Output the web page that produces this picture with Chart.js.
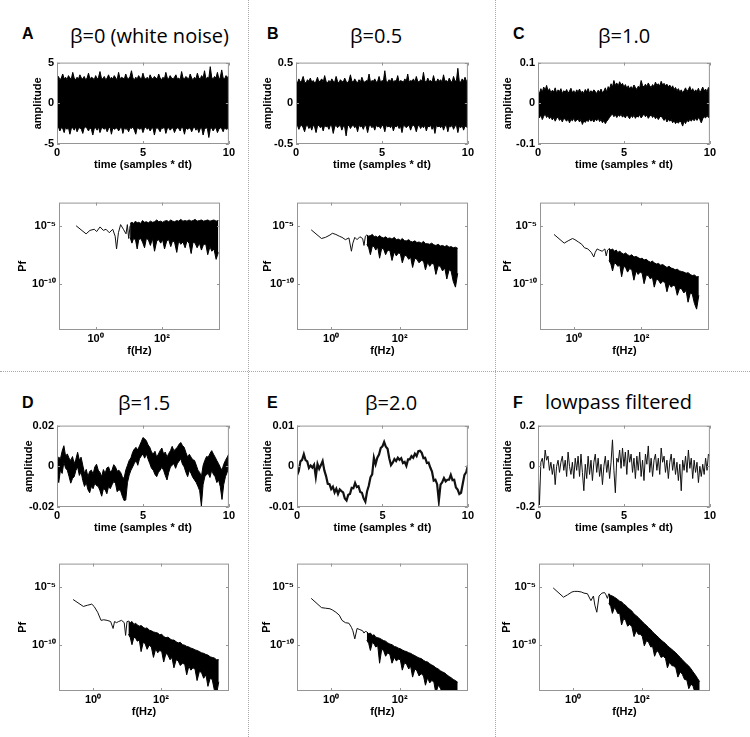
<!DOCTYPE html>
<html>
<head>
<meta charset="utf-8">
<script src="https://cdn.jsdelivr.net/npm/chart.js@4.4.0/dist/chart.umd.min.js"></script>
<style>
body { margin: 0; background: #fff; }
#fig { position: relative; width: 750px; height: 737px; overflow: hidden; background: #fff; }
#fig canvas { position: absolute; }
.sep-v { position: absolute; top: 0; width: 0; height: 737px; border-left: 1px dotted #a8a8a8; }
.sep-h { position: absolute; left: 0; height: 0; width: 750px; border-top: 1px dotted #a8a8a8; }
.letter { position: absolute; font: bold 16px "Liberation Sans", Arial, sans-serif; line-height: 16px; }
.title { position: absolute; font: 20px "Open Sans", sans-serif; line-height: 20px; white-space: nowrap; }
</style>
</head>
<body>
<div id="fig">
  <div class="sep-v" style="left:248px"></div>
  <div class="sep-v" style="left:495px"></div>
  <div class="sep-h" style="top:371px"></div>

  <div class="letter" style="left:22px;top:26px">A</div>
  <div class="letter" style="left:267px;top:26px">B</div>
  <div class="letter" style="left:513px;top:26px">C</div>
  <div class="letter" style="left:22px;top:395px">D</div>
  <div class="letter" style="left:267px;top:395px">E</div>
  <div class="letter" style="left:513px;top:395px">F</div>

  <div class="title" style="left:70px;top:26px">β=0 (white noise)</div>
  <div class="title" style="left:350px;top:26px">β=0.5</div>
  <div class="title" style="left:598px;top:26px">β=1.0</div>
  <div class="title" style="left:118px;top:393px">β=1.5</div>
  <div class="title" style="left:365px;top:393px">β=2.0</div>
  <div class="title" style="left:545px;top:392px">lowpass filtered</div>
</div>
<script>
// ---- time traces (amplitude vs time, 0..10), samples evenly spread over the axis ----
var timeTicks = [0, 5, 10];
var timeTickLabels = ['0', '5', '10'];

var ampTicksA = [-5, 0, 5];
var ampUpperA = [3.0, 3.3, 2.9, 3.1, 3.6, 3.0, 3.2, 2.9, 3.4, 3.1,
  3.0, 3.8, 3.1, 2.9, 3.2, 3.0, 3.5, 3.1, 3.0, 3.3,
  2.9, 3.1, 3.7, 3.0, 3.2, 3.1, 2.9, 3.4, 3.0, 3.2,
  3.9, 3.1, 3.0, 3.3, 2.9, 3.1, 3.5, 3.0, 3.2, 3.0,
  3.4, 3.1, 2.9, 3.8, 3.0, 3.2, 3.1, 3.0, 3.6, 3.1,
  3.0, 3.3, 4.0, 3.1, 2.9, 3.2, 3.0, 3.4, 3.1, 3.0,
  3.7, 3.1, 3.0, 3.2, 2.9, 3.5, 3.1, 3.0, 3.3, 3.1,
  3.0, 3.6, 3.1, 2.9, 3.2, 3.0, 3.8, 3.1, 3.0, 3.4,
  3.1, 3.0, 3.2, 3.5, 3.0, 3.1, 2.9, 3.9, 3.1, 3.0,
  3.3, 3.1, 3.0, 3.6, 3.1, 2.9, 3.2, 3.0, 3.7, 3.1,
  3.0, 3.4, 3.1, 4.0, 3.0, 3.2, 3.1, 4.5, 3.2, 3.0,
  3.3, 3.1, 3.8, 3.0, 3.2, 4.1, 3.1, 3.0, 3.4, 3.2,
  3.3];
var ampLowerA = [-3.1, -2.9, -3.4, -3.0, -3.1, -3.6, -2.9, -3.2, -3.0, -3.8,
  -3.1, -3.0, -3.3, -2.9, -3.5, -3.1, -3.0, -3.2, -3.7, -3.0,
  -2.9, -3.1, -3.4, -3.0, -3.2, -3.9, -3.1, -3.0, -3.3, -2.9,
  -3.6, -3.1, -3.0, -3.2, -3.0, -3.5, -3.1, -2.9, -3.8, -3.0,
  -3.2, -3.1, -3.0, -3.4, -3.1, -2.9, -3.7, -3.0, -3.2, -3.1,
  -3.5, -3.0, -3.1, -2.9, -3.3, -3.8, -3.0, -3.1, -3.2, -3.0,
  -3.6, -3.1, -2.9, -3.2, -3.0, -3.4, -3.1, -3.0, -3.9, -3.1,
  -3.0, -3.2, -3.5, -3.0, -3.1, -2.9, -3.7, -3.1, -3.0, -3.3,
  -3.1, -3.0, -3.6, -3.2, -3.0, -3.1, -3.4, -2.9, -3.1, -3.8,
  -3.0, -3.2, -3.1, -3.0, -3.5, -3.1, -2.9, -3.3, -3.0, -3.6,
  -3.1, -3.0, -3.9, -3.2, -3.0, -3.1, -4.2, -3.2, -3.0, -3.4,
  -3.1, -3.0, -3.6, -3.2, -3.0, -3.1, -3.5, -3.0, -3.2, -3.1,
  -3.3];

var ampTicksB = [-0.5, 0, 0.5];
var ampUpperB = [0.27, 0.25, 0.3, 0.26, 0.28, 0.33, 0.26, 0.25, 0.29, 0.27,
  0.31, 0.26, 0.28, 0.25, 0.27, 0.32, 0.26, 0.28, 0.3, 0.26,
  0.34, 0.27, 0.25, 0.28, 0.26, 0.3, 0.27, 0.26, 0.33, 0.27,
  0.25, 0.29, 0.27, 0.26, 0.31, 0.27, 0.25, 0.28, 0.35, 0.27,
  0.26, 0.3, 0.27, 0.25, 0.29, 0.26, 0.32, 0.27, 0.26, 0.28,
  0.27, 0.36, 0.26, 0.28, 0.27, 0.3, 0.26, 0.27, 0.33, 0.26,
  0.28, 0.27, 0.4, 0.27, 0.26, 0.29, 0.27, 0.31, 0.26, 0.28,
  0.27, 0.34, 0.26, 0.28, 0.27, 0.26, 0.3, 0.27, 0.36, 0.26,
  0.28, 0.27, 0.3, 0.26, 0.33, 0.27, 0.26, 0.29, 0.27, 0.38,
  0.27, 0.26, 0.31, 0.27, 0.28, 0.26, 0.34, 0.27, 0.26, 0.3,
  0.27, 0.29, 0.26, 0.35, 0.27, 0.28, 0.26, 0.31, 0.27, 0.26,
  0.33, 0.27, 0.28, 0.43, 0.27, 0.26, 0.3, 0.27, 0.32, 0.27,
  0.29];
var ampLowerB = [-0.29, -0.27, -0.32, -0.28, -0.27, -0.3, -0.35, -0.28, -0.27, -0.31,
  -0.28, -0.33, -0.27, -0.29, -0.36, -0.28, -0.27, -0.3, -0.28, -0.34,
  -0.27, -0.29, -0.28, -0.32, -0.27, -0.28, -0.37, -0.29, -0.27, -0.3,
  -0.28, -0.27, -0.33, -0.28, -0.29, -0.4, -0.28, -0.27, -0.31, -0.28,
  -0.27, -0.3, -0.28, -0.35, -0.27, -0.29, -0.28, -0.32, -0.27, -0.28,
  -0.36, -0.28, -0.27, -0.3, -0.28, -0.33, -0.27, -0.29, -0.28, -0.31,
  -0.27, -0.28, -0.35, -0.27, -0.29, -0.28, -0.3, -0.27, -0.34, -0.28,
  -0.29, -0.27, -0.31, -0.28, -0.36, -0.27, -0.28, -0.3, -0.28, -0.27,
  -0.33, -0.28, -0.27, -0.29, -0.35, -0.28, -0.27, -0.31, -0.28, -0.3,
  -0.27, -0.34, -0.28, -0.29, -0.27, -0.32, -0.28, -0.37, -0.27, -0.29,
  -0.28, -0.3, -0.27, -0.33, -0.28, -0.27, -0.35, -0.28, -0.29, -0.27,
  -0.32, -0.28, -0.27, -0.36, -0.28, -0.3, -0.27, -0.33, -0.28, -0.29,
  -0.3];

var ampTicksC = [-0.1, 0, 0.1];
var ampUpperC = [0.030, 0.024, 0.036, 0.028, 0.040, 0.032, 0.044, 0.030, 0.036, 0.026,
  0.032, 0.028, 0.038, 0.025, 0.033, 0.029, 0.036, 0.024, 0.031, 0.027,
  0.034, 0.025, 0.030, 0.037, 0.026, 0.031, 0.024, 0.033, 0.028, 0.035,
  0.026, 0.030, 0.024, 0.034, 0.028, 0.036, 0.025, 0.031, 0.027, 0.033,
  0.029, 0.024, 0.032, 0.027, 0.035, 0.026, 0.030, 0.038, 0.028, 0.041,
  0.036, 0.048, 0.040, 0.056, 0.044, 0.050, 0.042, 0.053, 0.045, 0.049,
  0.040, 0.046, 0.037, 0.043, 0.035, 0.041, 0.036, 0.045, 0.039, 0.034,
  0.042, 0.038, 0.056, 0.044, 0.040, 0.047, 0.041, 0.050, 0.043, 0.039,
  0.046, 0.041, 0.052, 0.044, 0.048, 0.042, 0.054, 0.045, 0.049, 0.043,
  0.047, 0.040, 0.045, 0.037, 0.043, 0.034, 0.039, 0.031, 0.036, 0.028,
  0.033, 0.026, 0.031, 0.038, 0.029, 0.034, 0.041, 0.030, 0.036, 0.027,
  0.033, 0.029, 0.037, 0.026, 0.032, 0.040, 0.030, 0.035, 0.028, 0.039,
  0.034];
var ampLowerC = [-0.030, -0.036, -0.028, -0.040, -0.032, -0.026, -0.035, -0.030, -0.038, -0.033,
  -0.041, -0.035, -0.044, -0.037, -0.034, -0.042, -0.038, -0.046, -0.036, -0.040,
  -0.044, -0.038, -0.048, -0.040, -0.043, -0.037, -0.045, -0.041, -0.039, -0.046,
  -0.040, -0.052, -0.043, -0.047, -0.041, -0.045, -0.038, -0.044, -0.040, -0.046,
  -0.039, -0.043, -0.036, -0.045, -0.040, -0.048, -0.042, -0.050, -0.044, -0.040,
  -0.034, -0.030, -0.026, -0.033, -0.028, -0.035, -0.029, -0.032, -0.027, -0.034,
  -0.030, -0.036, -0.028, -0.033, -0.038, -0.030, -0.035, -0.029, -0.037, -0.031,
  -0.034, -0.028, -0.036, -0.031, -0.026, -0.033, -0.029, -0.037, -0.032, -0.028,
  -0.035, -0.030, -0.038, -0.033, -0.040, -0.034, -0.031, -0.037, -0.042, -0.036,
  -0.046, -0.039, -0.044, -0.040, -0.048, -0.042, -0.050, -0.045, -0.049, -0.043,
  -0.047, -0.056, -0.044, -0.050, -0.041, -0.046, -0.039, -0.044, -0.038, -0.043,
  -0.037, -0.042, -0.035, -0.040, -0.048, -0.038, -0.033, -0.036, -0.030, -0.035,
  -0.032];

// D and E were read in thousandths
var milli = 1e-3;
var ampTicksD = [-0.02, 0, 0.02];
var ampUpperD = [1.3, 4.5, 3.7, 7.5, 10.1, 5.0, 6.1, 4.0, 2.9, 4.8,
  1.3, 3.5, 6.9, 3.0, 4.5, 0.5, -3.5, -1.5, -5.1, -2.5,
  -1.9, -3.8, -0.3, 1.0, -1.9, -3.0, -5.1, -1.6, -3.5, -0.8,
  -0.3, -2.8, -1.9, 0.8, -0.3, -2.4, -1.9, -3.0, -5.1, -6.0,
  -1.9, 0.5, 2.9, 4.1, 6.9, 8.5, 9.3, 8.0, 10.1, 12.0,
  14.1, 13.5, 12.5, 10.5, 9.3, 7.0, 6.1, 7.4, 4.5, 6.0,
  7.7, 9.0, 6.1, 7.0, 4.5, 6.3, 7.7, 9.8, 7.7, 8.5,
  9.3, 10.8, 11.7, 10.2, 9.3, 6.8, 4.5, 5.9, 4.5, 3.2,
  2.9, 0.6, -1.9, -3.0, -5.1, 0.4, 2.9, 4.8, 4.5, 6.3,
  7.7, 6.0, 4.5, 2.8, 1.3, -0.5, -1.9, 1.0, 2.9, 4.5,
  6.1];
var ampLowerD = [-1.9, -8.0, -1.9, -3.5, 2.1, -1.0, -1.9, -5.0, -8.3, -6.0,
  -5.1, -2.0, -0.3, -4.5, -2.7, -7.0, -9.9, -8.0, -11.5, -13.0,
  -9.9, -11.0, -8.3, -9.5, -9.9, -12.0, -14.7, -11.0, -11.5, -13.5,
  -9.9, -11.0, -9.1, -7.5, -8.3, -12.5, -11.5, -12.0, -14.7, -16.8,
  -16.6, -8.0, -4.3, -2.0, -0.3, 1.5, 2.9, 0.5, 3.7, 5.0,
  6.1, 4.0, 6.1, 3.5, 1.3, -1.0, -1.9, -4.0, -5.1, -3.0,
  -1.9, -0.5, -1.9, -4.5, -6.7, -3.0, -0.3, 0.5, 1.3, -1.0,
  1.3, 2.5, 3.7, 1.0, -0.3, -3.0, -5.1, -2.0, -3.5, -5.5,
  -6.7, -8.0, -9.9, -12.0, -19.5, -9.0, -5.1, -4.0, -3.5, -5.5,
  -1.9, -4.0, -5.1, -8.0, -6.7, -10.0, -16.3, -9.0, -5.1, -3.0,
  -0.3];

var ampTicksE = [-0.01, 0, 0.01];
var ampE = [-2.2, -1.2, 1.2, 1.6, 3.0, 1.5, 1.2, -0.4, 0.2, -0.3,
  0.4, -2.6, 0.6, -0.6, 0.3, 1.3, -1.0, -2.4, -4.3, -4.4,
  -5.6, -5.0, -6.4, -5.5, -6.8, -5.7, -6.1, -6.4, -7.9, -8.4,
  -7.0, -6.8, -5.3, -5.4, -4.1, -5.1, -4.9, -6.3, -6.5, -7.9,
  -8.7, -6.2, -4.8, -2.7, -2.0, 2.1, 0.5, 2.1, 2.9, 4.5,
  4.9, 6.0, 4.8, 4.3, 2.0, 0.3, 0.9, 1.8, 1.3, 2.1,
  1.6, 2.0, 0.8, 1.1, 0.1, 1.7, 1.7, 2.5, 2.1, 3.1,
  2.5, 3.7, 3.8, 3.3, 2.0, 2.1, 0.8, 0.9, -0.3, -1.3,
  -3.5, -3.3, -4.4, -8.5, -4.5, -3.9, -2.9, -3.7, -3.3, -3.3,
  -2.1, -3.4, -3.3, -5.2, -5.7, -6.8, -6.5, -4.3, -2.1, -1.5,
  0.2];

var ampTicksF = [-0.2, 0, 0.2];
var ampF = [0.0, -0.19, 0.02, 0.04, -0.01, 0.08, 0.03, 0.05, -0.02, 0.02,
  -0.04, 0.01, -0.09, 0.0, 0.03, -0.03, 0.02, 0.05, -0.02, 0.03,
  -0.05, 0.07, 0.0, -0.04, 0.02, -0.06, 0.04, -0.02, 0.05, -0.05,
  0.06, -0.03, -0.12, 0.01, -0.06, 0.05, -0.04, 0.03, -0.07, 0.02,
  0.06, -0.03, 0.04, -0.05, 0.01, -0.09, 0.0, 0.05, -0.03, 0.03,
  -0.06, 0.02, 0.13, -0.02, -0.13, 0.04, 0.02, 0.08, -0.01, 0.09,
  0.0, 0.07, -0.04, 0.08, 0.02, 0.06, -0.03, 0.04, -0.06, 0.05,
  -0.02, 0.07, -0.05, 0.03, -0.07, 0.06, 0.01, 0.1, -0.03, 0.04,
  -0.05, 0.03, 0.06, -0.02, 0.04, -0.04, 0.09, 0.02, 0.05, -0.03,
  0.03, -0.06, 0.02, 0.06, -0.02, 0.04, -0.04, 0.02, -0.07, 0.01,
  -0.12, 0.03, -0.02, 0.05, -0.03, 0.08, -0.01, 0.04, -0.06, 0.03,
  -0.03, 0.02, -0.08, 0.0, -0.05, 0.01, -0.04, 0.04, -0.02, 0.06,
  0.05];

// ---- power spectra, values read as log10(Pf) ----
var freqTicks = [1, 100];
var freqTickLabels = ['10⁰', '10²'];
var pfTicks = [1e-10, 1e-5];
var pfTickLabels = ['10⁻¹⁰', '10⁻⁵'];

var lowFreq = [0.26, 0.52, 0.68, 0.92, 1.08, 1.37, 1.72, 2.07, 2.6, 3.3, 3.9, 4.3, 4.9, 5.7, 6.9, 8.3, 9.1, 10, 11];
var bandFreq = [11, 12.5, 14, 16, 18, 20, 23, 26, 30, 34,
  39, 45, 52, 60, 70, 80, 92, 105, 120, 140,
  160, 185, 210, 240, 280, 320, 370, 430, 500, 570,
  660, 760, 870, 1000, 1150, 1350, 1550, 1800, 2100, 2400,
  2800, 3200, 3700, 4300, 5000];

var logPfLowA = [-5.0, -5.7, -5.4, -5.3, -5.5, -5.1, -5.4, -5.3, -5.6, -5.3, -5.9, -7.0, -5.6, -4.9, -5.3, -5.7, -4.9, -6.1, -5.0];
var logPfTopA = [-4.8, -4.7, -4.8, -4.6, -4.75, -4.7, -4.8, -4.55, -4.7, -4.65,
  -4.75, -4.6, -4.7, -4.65, -4.5, -4.65, -4.6, -4.7, -4.6, -4.55,
  -4.65, -4.5, -4.6, -4.65, -4.55, -4.6, -4.45, -4.6, -4.55, -4.6,
  -4.5, -4.6, -4.55, -4.45, -4.6, -4.55, -4.5, -4.6, -4.55, -4.5,
  -4.6, -4.55, -4.5, -4.6, -4.55];
var logPfBotA = [-6.0, -6.5, -6.1, -6.2, -7.0, -6.2, -6.1, -6.4, -6.9, -6.1,
  -6.2, -6.7, -6.1, -7.2, -6.3, -6.2, -6.5, -6.2, -7.0, -6.3,
  -6.2, -6.8, -6.3, -6.4, -7.3, -6.3, -6.6, -6.4, -6.9, -6.3,
  -6.5, -7.4, -6.4, -6.5, -6.9, -6.5, -7.1, -6.6, -6.6, -7.5,
  -6.8, -7.2, -7.0, -7.9, -7.3];

var logPfLowB = [-5.35, -6.1, -6.0, -5.8, -5.65, -5.75, -5.9, -6.0, -6.2, -6.05, -7.2, -6.5, -6.0, -6.2, -5.95, -6.1, -6.7, -5.9, -5.8];
var logPfTopB = [-5.8, -5.9, -5.85, -5.75, -5.95, -5.9, -6.0, -5.85, -6.0, -6.05,
  -5.95, -6.1, -6.05, -6.15, -6.0, -6.2, -6.15, -6.25, -6.1, -6.3,
  -6.3, -6.2, -6.35, -6.4, -6.3, -6.45, -6.4, -6.5, -6.35, -6.55,
  -6.55, -6.6, -6.5, -6.65, -6.7, -6.6, -6.75, -6.7, -6.8, -6.7,
  -6.85, -6.8, -6.9, -6.85, -6.95];
var logPfBotB = [-6.6, -6.9, -7.5, -6.75, -6.8, -7.1, -6.85, -7.8, -6.95, -7.0,
  -7.5, -7.1, -7.15, -8.0, -7.25, -7.6, -7.35, -7.4, -8.2, -7.55,
  -7.6, -7.9, -7.7, -8.6, -7.8, -7.9, -8.2, -8.0, -8.05, -8.8,
  -8.15, -8.5, -8.25, -8.3, -9.2, -8.45, -8.5, -8.9, -8.65, -9.6,
  -8.8, -8.9, -9.8, -10.3, -9.1];

var logPfLowC = [-5.75, -6.5, -6.3, -6.1, -6.2, -6.4, -6.6, -6.9, -7.0, -7.3, -7.7, -7.3, -7.0, -7.1, -7.2, -7.0, -7.6, -7.1, -7.0];
var logPfTopC = [-6.95, -7.1, -7.0, -7.2, -7.1, -7.3, -7.2, -7.35, -7.45, -7.35,
  -7.5, -7.6, -7.5, -7.7, -7.65, -7.75, -7.85, -7.8, -7.95, -7.9,
  -8.05, -8.15, -8.05, -8.2, -8.3, -8.25, -8.4, -8.35, -8.5, -8.6,
  -8.5, -8.65, -8.7, -8.8, -8.75, -8.9, -8.95, -9.0, -9.1, -9.05,
  -9.2, -9.3, -9.25, -9.4, -9.4];
var logPfBotC = [-8.0, -8.3, -8.9, -8.2, -8.3, -8.5, -8.4, -9.4, -8.5, -8.6,
  -9.0, -8.7, -8.8, -9.7, -8.9, -9.2, -9.0, -9.1, -10.0, -9.25,
  -9.3, -9.6, -9.4, -10.3, -9.6, -9.7, -10.0, -9.8, -9.9, -10.7,
  -10.0, -10.3, -10.15, -10.2, -11.0, -10.4, -10.45, -10.8, -10.6, -11.6,
  -10.8, -10.9, -11.7, -12.2, -11.0];

var logPfLowD = [-6.1, -6.7, -6.6, -6.5, -6.7, -7.2, -7.9, -7.85, -7.9, -8.0, -8.6, -8.0, -8.1, -8.0, -7.9, -8.1, -9.2, -8.0, -8.0];
var logPfTopD = [-7.95, -8.1, -8.0, -8.25, -8.15, -8.3, -8.4, -8.35, -8.5, -8.6,
  -8.55, -8.75, -8.8, -8.9, -8.95, -9.0, -9.15, -9.1, -9.3, -9.4,
  -9.35, -9.5, -9.6, -9.6, -9.75, -9.85, -9.8, -10.0, -10.05, -10.15,
  -10.2, -10.3, -10.35, -10.45, -10.5, -10.6, -10.7, -10.75, -10.85, -10.9,
  -11.05, -11.1, -11.15, -11.3, -11.3];
var logPfBotD = [-9.1, -9.4, -10.0, -9.35, -9.45, -9.7, -9.6, -10.6, -9.8, -9.9,
  -10.4, -10.05, -10.2, -11.1, -10.35, -10.7, -10.5, -10.6, -11.5, -10.75,
  -10.9, -11.3, -11.1, -12.0, -11.3, -11.4, -11.8, -11.6, -11.7, -12.6,
  -11.85, -12.2, -12.0, -12.1, -13.1, -12.3, -12.4, -12.9, -12.6, -13.6,
  -12.9, -13.0, -13.9, -14.3, -13.2];

var logPfLowE = [-6.0, -6.8, -6.85, -6.9, -7.0, -7.2, -7.45, -7.9, -8.1, -8.15, -8.5, -8.8, -9.5, -8.6, -8.7, -8.8, -9.0, -8.85, -8.9];
var logPfTopE = [-8.9, -9.05, -9.0, -9.2, -9.15, -9.35, -9.4, -9.45, -9.55, -9.65,
  -9.7, -9.85, -9.95, -10.0, -10.15, -10.2, -10.3, -10.35, -10.45, -10.55,
  -10.6, -10.7, -10.75, -10.85, -10.95, -11.05, -11.15, -11.2, -11.35, -11.45,
  -11.5, -11.65, -11.75, -11.85, -12.0, -12.1, -12.25, -12.35, -12.45, -12.6,
  -12.75, -12.85, -13.0, -13.1, -13.25];
var logPfBotE = [-9.6, -9.9, -10.5, -9.8, -9.95, -10.2, -10.1, -11.6, -10.4, -10.5,
  -11.0, -10.7, -10.85, -11.6, -11.1, -11.4, -11.25, -11.3, -12.2, -11.55,
  -11.7, -12.1, -11.85, -12.8, -12.1, -12.25, -12.7, -12.5, -12.7, -13.5,
  -12.85, -13.3, -13.1, -13.2, -14.2, -13.5, -13.75, -14.2, -13.9, -14.5,
  -14.1, -14.2, -14.6, -14.5, -14.6];

var logPfLowF = [-5.1, -5.9, -5.7, -5.45, -5.4, -5.4, -5.45, -5.55, -5.6, -6.2, -5.8, -6.6, -7.2, -5.8, -5.55, -5.5, -5.7, -6.0, -5.6];
var logPfTopF = [-5.6, -5.75, -5.8, -5.9, -6.0, -6.1, -6.25, -6.3, -6.5, -6.6,
  -6.8, -6.95, -7.1, -7.35, -7.5, -7.65, -7.85, -8.0, -8.2, -8.35,
  -8.55, -8.7, -8.9, -9.05, -9.25, -9.4, -9.6, -9.75, -9.9, -10.1,
  -10.25, -10.4, -10.55, -10.7, -10.9, -11.1, -11.3, -11.5, -11.7, -11.85,
  -12.1, -12.35, -12.6, -12.9, -13.2];
var logPfBotF = [-6.4, -6.7, -7.3, -6.8, -7.0, -7.3, -7.3, -8.3, -7.75, -7.9,
  -8.4, -8.25, -8.45, -9.3, -8.8, -9.1, -9.1, -9.3, -10.1, -9.65,
  -9.8, -10.2, -10.15, -11.0, -10.5, -10.7, -11.1, -11.0, -11.2, -12.0,
  -11.5, -11.8, -11.85, -12.0, -12.8, -12.35, -12.55, -13.0, -13.05, -13.8,
  -13.4, -13.6, -14.2, -14.3, -14.4];

// ---- layout ----
var FONT = '"Liberation Sans", Arial, sans-serif';
var tickFont = { family: FONT, size: 11, weight: 'bold' };
var YW = 62, XH = 34, PT = 8, PR = 8;
var fig = document.getElementById('fig');

// matlab style box with inward tick marks
var boxPlugin = {
  id: 'box',
  afterDraw: function (chart) {
    var ctx = chart.ctx, a = chart.chartArea, sx = chart.scales.x, sy = chart.scales.y;
    ctx.save();
    ctx.strokeStyle = '#959595';
    ctx.lineWidth = 1;
    ctx.strokeRect(a.left + 0.5, a.top + 0.5, a.right - a.left - 1, a.bottom - a.top - 1);
    ctx.beginPath();
    sx.ticks.forEach(function (t) {
      var x = Math.round(sx.getPixelForValue(t.value)) + 0.5;
      ctx.moveTo(x, a.top); ctx.lineTo(x, a.top + 3);
      ctx.moveTo(x, a.bottom); ctx.lineTo(x, a.bottom - 3);
    });
    sy.ticks.forEach(function (t) {
      var y = Math.round(sy.getPixelForValue(t.value)) + 0.5;
      ctx.moveTo(a.left, y); ctx.lineTo(a.left + 3, y);
      ctx.moveTo(a.right, y); ctx.lineTo(a.right - 3, y);
    });
    ctx.stroke();
    ctx.restore();
  }
};

function axis(extra, tickVals, tickLabels, titleText, titlePad, isX) {
  var base = {
    afterBuildTicks: function (s) { s.ticks = tickVals.map(function (v) { return { value: v }; }); },
    afterFit: function (s) { if (isX) { s.height = XH; } else { s.width = YW; } },
    grid: { drawOnChartArea: false, drawTicks: false },
    border: { display: false },
    ticks: {
      font: tickFont, color: '#000', padding: isX ? 2 : 3, maxRotation: 0, autoSkip: false,
      callback: function (v, i) { return tickLabels[i]; }
    },
    title: { display: true, text: titleText, font: tickFont, color: '#000', padding: titlePad }
  };
  return Object.assign(base, extra);
}

function addChart(box, yTitleX, xAxis, yAxis, datasets) {
  var l = box[0], t = box[1], r = box[2], b = box[3];
  var cv = document.createElement('canvas');
  cv.width = (r - l) + YW + PR;
  cv.height = (b - t) + PT + XH;
  cv.style.left = (l - YW) + 'px';
  cv.style.top = (t - PT) + 'px';
  fig.appendChild(cv);
  yAxis.title.padding = { top: yTitleX - (l - YW) - 6.6, bottom: 0 };
  new Chart(cv, {
    type: 'line',
    data: { datasets: datasets },
    options: {
      animation: false, responsive: false, devicePixelRatio: 1, events: [],
      layout: { padding: { top: PT, right: PR, bottom: 0, left: 0 } },
      plugins: { legend: { display: false }, tooltip: { enabled: false } },
      elements: { point: { radius: 0 }, line: { tension: 0 } },
      scales: { x: xAxis, y: yAxis }
    },
    plugins: [boxPlugin]
  });
}

function timePts(vals, unit) {
  var k = unit || 1;
  return vals.map(function (v, i) { return { x: 10 * i / (vals.length - 1), y: v * k }; });
}
function logPts(freqs, logVals) {
  return logVals.map(function (v, i) { return { x: freqs[i], y: Math.pow(10, v) }; });
}
function lineSet(data, w) {
  return { data: data, borderColor: '#111', borderWidth: w, fill: false, clip: 0 };
}
function bandSets(top, bot) {
  return [
    { data: top, borderColor: '#000', backgroundColor: '#000', borderWidth: 1, fill: '+1', clip: 0 },
    { data: bot, borderColor: '#000', borderWidth: 1, fill: false, clip: 0 }
  ];
}

function timeChart(box, yTitleX, yTicks, datasets) {
  var xA = axis({ type: 'linear', min: 0, max: 10 }, timeTicks, timeTickLabels,
    'time (samples * dt)', { top: 0, bottom: 6 }, true);
  var yA = axis({ type: 'linear', min: yTicks[0], max: yTicks[2] }, yTicks,
    yTicks.map(String), 'amplitude', {}, false);
  addChart(box, yTitleX, xA, yA, datasets);
}

function specChart(box, yTitleX, xMin, xMax, low, top, bot) {
  var xA = axis({ type: 'logarithmic', min: xMin, max: xMax }, freqTicks, freqTickLabels,
    'f(Hz)', { top: 0, bottom: 6 }, true);
  var yA = axis({ type: 'logarithmic', min: 1e-14, max: 1e-3 }, pfTicks, pfTickLabels,
    'Pf', {}, false);
  var sets = bandSets(logPts(bandFreq, top), logPts(bandFreq, bot));
  sets.push(lineSet(logPts(lowFreq, low), 1));
  addChart(box, yTitleX, xA, yA, sets);
}

// row 1
timeChart([57, 61, 229, 144], 38, ampTicksA, bandSets(timePts(ampUpperA), timePts(ampLowerA)));
timeChart([296, 61, 468, 144], 268, ampTicksB, bandSets(timePts(ampUpperB), timePts(ampLowerB)));
timeChart([538, 61, 710, 144], 508, ampTicksC, bandSets(timePts(ampUpperC), timePts(ampLowerC)));
specChart([59, 201, 220, 330], 23, 0.0794, 5623, logPfLowA, logPfTopA, logPfBotA);
specChart([297, 201, 468, 330], 268, 0.1, 1e4, logPfLowB, logPfTopB, logPfBotB);
specChart([540, 201, 709, 330], 508, 0.1, 1e4, logPfLowC, logPfTopC, logPfBotC);

// row 2
timeChart([57, 424, 229, 507], 29, ampTicksD, bandSets(timePts(ampUpperD, milli), timePts(ampLowerD, milli)));
timeChart([297, 424, 468, 507], 268, ampTicksE, [lineSet(timePts(ampE, milli), 2.2)]);
timeChart([538, 424, 710, 507], 508, ampTicksF, [lineSet(timePts(ampF), 1)]);
specChart([59, 562, 229, 691], 23, 0.1, 1e4, logPfLowD, logPfTopD, logPfBotD);
specChart([297, 562, 468, 691], 267, 0.1, 1e4, logPfLowE, logPfTopE, logPfBotE);
specChart([539, 562, 710, 691], 507, 0.1, 1e4, logPfLowF, logPfTopF, logPfBotF);
</script>
</body>
</html>
